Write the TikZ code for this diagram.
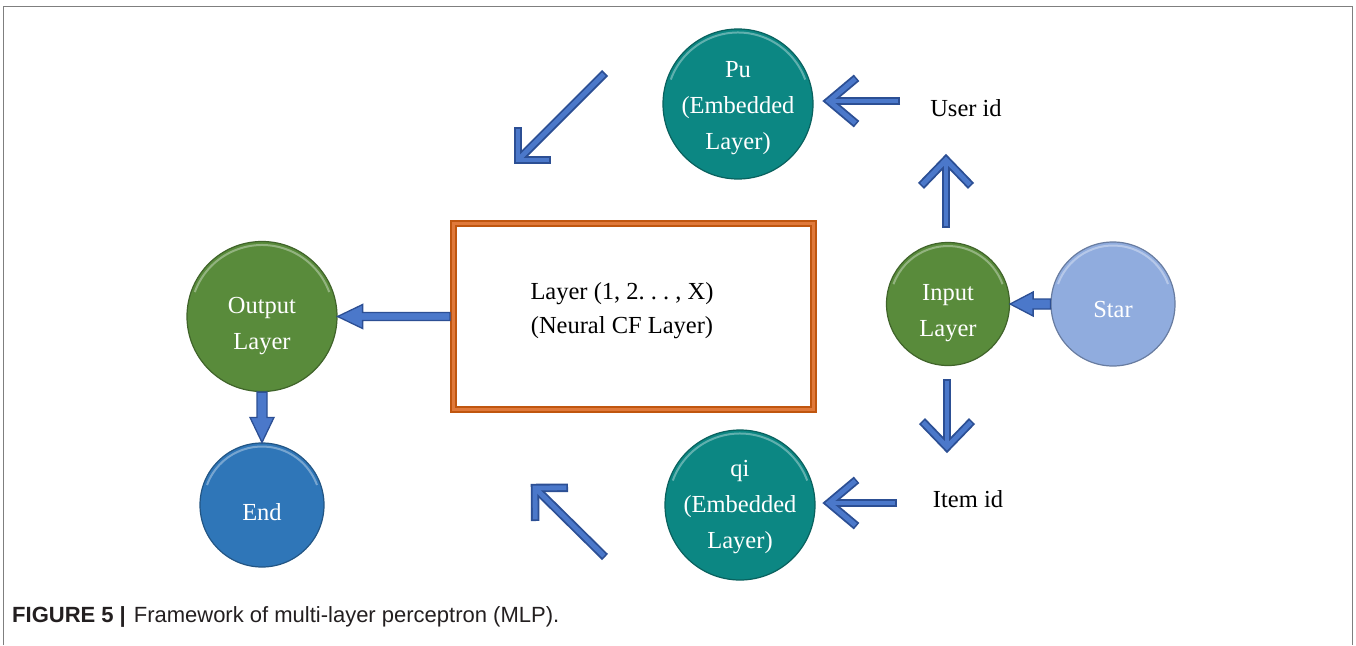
\documentclass[tikz,border=0pt]{standalone}
\usepackage{fontspec}
\setmainfont{Liberation Serif}
\newfontfamily\capfont{Liberation Sans}
\usetikzlibrary{calc}

\definecolor{embteal}{HTML}{0C8783}
\definecolor{laygreen}{HTML}{598B3B}
\definecolor{endblue}{HTML}{2F76B8}
\definecolor{starblue}{HTML}{90ACDE}
\definecolor{arrdark}{HTML}{2C4F94}
\definecolor{arrlight}{HTML}{4B78CA}
\definecolor{boxorange}{HTML}{C0560F}
\definecolor{boxlight}{HTML}{E0793A}
\definecolor{framegray}{HTML}{7F7F7F}
\definecolor{captext}{HTML}{231F20}

\tikzset{
  % filled disc with a soft bevel highlight along its upper rim
  disc/.style 2 args={circle, minimum size={2*#1pt}, inner sep=0pt,
    fill=#2, draw=#2!72!black, line width=1.2pt,
    path picture={\draw[white, opacity=.35, line width=2pt]
      (path picture bounding box.center) ++(160:{#1pt-3.5pt})
      arc[start angle=160, end angle=20, radius={#1pt-3.5pt}];}},
  intext/.style={font=\fontsize{24.5}{36}\selectfont, text=white,
    align=center, inner sep=0pt},
  labeltext/.style={font=\fontsize{24.5}{34}\selectfont, text=black,
    align=center, inner sep=0pt},
  openouter/.style={draw=arrdark, line width=8.5pt, line join=miter,
    miter limit=10, line cap=butt},
  openinner/.style={draw=arrlight, line width=4.8pt, line join=miter,
    miter limit=10, line cap=butt},
  blockarr/.style={fill=arrlight, draw=arrdark, line width=1.3pt,
    line join=miter},
}

% open chevron arrow: tail, tip, barb angle, barb length
\newcommand\openarrow[4]{%
  \draw[openouter] (#1) -- (#2);
  \draw[openouter] ($(#2)!#4!#3:(#1)$) -- (#2) -- ($(#2)!#4!-#3:(#1)$);
  \draw[openinner, shorten <=1.6pt] (#1) -- (#2);
  \draw[openinner, shorten <=1.6pt, shorten >=1.6pt]
    ($(#2)!#4!#3:(#1)$) -- (#2) -- ($(#2)!#4!-#3:(#1)$);
}

\begin{document}
\frenchspacing
\begin{tikzpicture}[x=1pt, y=-1pt]
\useasboundingbox (0,0) rectangle (1356,645);
\fill[white] (0,0) rectangle (1356,645);

% outer frame, open at the bottom
\draw[framegray, line width=1.5pt] (3.5,645) -- (3.5,6.5) -- (1352.5,6.5) -- (1352.5,645);

% discs
\node[disc={75}{embteal}] (pu) at (738,104) {};
\node[intext] (pu-t) at (738,108) {Pu\\(Embedded\\Layer)};

\node[disc={75}{embteal}] (qi) at (740,505) {};
\node[intext] (qi-t) at (740,507) {qi\\(Embedded\\Layer)};

\node[disc={75}{laygreen}] (out) at (262,316.5) {};
\node[intext] (out-t) at (262,326) {Output\\Layer};

\node[disc={62}{endblue}] (end) at (262,505) {};
\node[intext] (end-t) at (262,512) {End};

\node[disc={61.5}{laygreen}] (inp) at (948,304) {};
\node[intext] (inp-t) at (948,313) {Input\\Layer};

\node[disc={62}{starblue}] (star) at (1113,304) {};
\node[intext] (star-t) at (1113,310) {Star};

% neural CF block with a bevelled orange frame
\node[draw=boxorange, line width=7pt, minimum width=360pt, minimum height=186pt,
      inner sep=0pt] (cf) at (633.5,316.5) {};
\draw[boxlight, line width=2.4pt] ($(cf.north west)+(3.5,3.5)$) rectangle ($(cf.south east)+(-3.5,-3.5)$);
\node[labeltext] (cf-t) at (622,311) {Layer (1, 2. . . , X)\\(Neural CF Layer)};

% id labels
\node[labeltext] (uid) at (966,108) {User id};
\node[labeltext] (iid) at (968,499) {Item id};

% block arrows
\filldraw[blockarr] ($(cf.west)+(0,-4)$) -- ($(out.east)+(25,-4)$) -- ($(out.east)+(25,-12)$)
  -- (out.east) -- ($(out.east)+(25,12)$) -- ($(out.east)+(25,4)$) -- ($(cf.west)+(0,4)$) -- cycle;
\filldraw[blockarr] ($(out.south)+(-5,0)$) -- ($(end.north)+(-5,-25)$) -- ($(end.north)+(-12,-25)$)
  -- (end.north) -- ($(end.north)+(12,-25)$) -- ($(end.north)+(5,-25)$) -- ($(out.south)+(5,0)$) -- cycle;
\filldraw[blockarr] ($(star.west)+(0,-5)$) -- ($(inp.east)+(23,-5)$) -- ($(inp.east)+(23,-12)$)
  -- (inp.east) -- ($(inp.east)+(23,12)$) -- ($(inp.east)+(23,5)$) -- ($(star.west)+(0,5)$) -- cycle;

% chevron arrows
\coordinate (ua-tail) at (900,101);  \coordinate (ua-tip) at (829,101);
\coordinate (ia-tail) at (897,503);  \coordinate (ia-tip) at (829,503);
\coordinate (up-tail) at (946,228);  \coordinate (up-tip) at (946,160);
\coordinate (dn-tail) at (947,379);  \coordinate (dn-tip) at (947,447);
\coordinate (sw-tail) at (605,73);   \coordinate (sw-tip) at (518,160);
\coordinate (nw-tail) at (605,557);  \coordinate (nw-tip) at (535,488);

\openarrow{ua-tail}{ua-tip}{40}{36pt}
\openarrow{ia-tail}{ia-tip}{40}{36pt}
\openarrow{up-tail}{up-tip}{44}{36pt}
\openarrow{dn-tail}{dn-tip}{44}{36pt}
\openarrow{sw-tail}{sw-tip}{45}{33pt}
\openarrow{nw-tail}{nw-tip}{45}{33pt}

% caption
\node[anchor=west, inner sep=0pt, text=captext, font=\capfont\fontsize{22}{26}\selectfont]
  (cap) at (12,617) {\textbf{FIGURE 5}\hspace{6pt}\textbf{|}\hspace{8pt}Framework of multi-layer perceptron (MLP).};
\end{tikzpicture}
\end{document}
